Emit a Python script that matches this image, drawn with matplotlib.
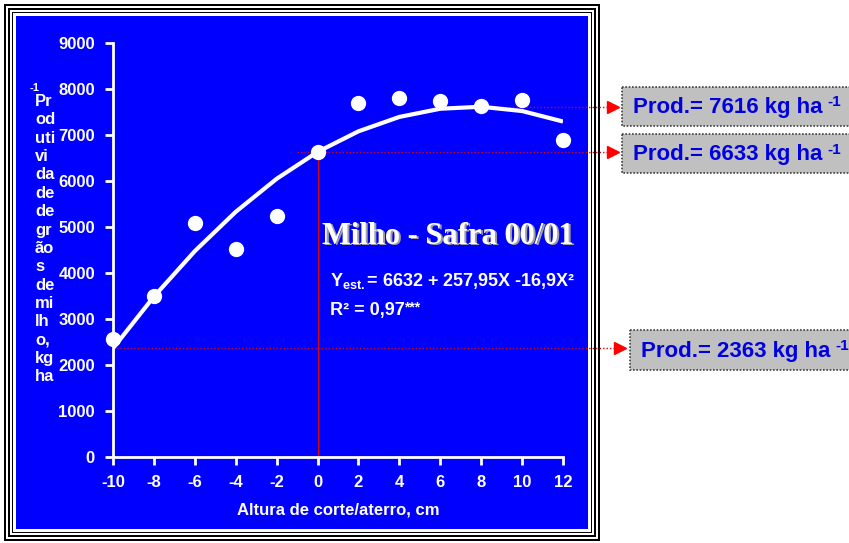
import matplotlib.pyplot as plt
import matplotlib.patches as mpatches

plt.rcParams['mathtext.fontset'] = 'custom'
plt.rcParams['mathtext.bf'] = 'Liberation Sans:bold'
plt.rcParams['mathtext.rm'] = 'Liberation Sans:bold'
plt.rcParams['mathtext.it'] = 'Liberation Sans:bold'
plt.rcParams['axes.unicode_minus'] = False

altura = [-10, -8, -6, -4, -2, 0, 2, 4, 6, 8, 10, 12]
prod_obs = [2570, 3500, 5090, 4520, 5240, 6630, 7690, 7800, 7740, 7630, 7760, 6890]

# Fitted curve values at the same heights
prod_est = [2363, 3487, 4476, 5330, 6048, 6632, 7080, 7393, 7571, 7614, 7521, 7293]

# Highlighted values
x_max, y_max = 7.63, 7616
x_zero, y_zero = 0, 6633
x_min, y_min = -10, 2363
box_labels = ['Prod.= 7616 kg ha', 'Prod.= 6633 kg ha', 'Prod.= 2363 kg ha']

W, H = 849, 543
fig = plt.figure(figsize=(W / 100, H / 100), dpi=100)
fig.patch.set_facecolor('white')

# Background axes in pixel coordinates for frame and boxes
bg = fig.add_axes([0, 0, 1, 1], zorder=-1)
bg.set_xlim(0, W)
bg.set_ylim(H, 0)
bg.axis('off')

frame = [(4, 4, 600, 541, 'black'), (6, 6, 598, 539, 'white'), (8, 8, 596, 537, 'black'),
         (10, 10, 594, 535, 'white'), (12, 12, 592, 533, 'black'), (13, 13, 591, 532, 'white'),
         (16, 16, 588, 529, '#0000FF')]
for x0, y0, x1, y1, c in frame:
    bg.add_patch(mpatches.Rectangle((x0, y0), x1 - x0, y1 - y0, facecolor=c, edgecolor='none'))

ax = fig.add_axes([113 / W, 86 / H, 450 / W, 414 / H])
ax.set_facecolor('none')
ax.set_xlim(-10, 12)
ax.set_ylim(0, 9000)
for s in ['top', 'right']:
    ax.spines[s].set_visible(False)
for s in ['left', 'bottom']:
    ax.spines[s].set_color('white')
    ax.spines[s].set_linewidth(2)
ax.set_xticks(range(-10, 13, 2))
ax.set_yticks(range(0, 9001, 1000))
ax.tick_params(colors='white', width=2, length=6, labelsize=12, pad=7)
for lab in ax.get_xticklabels() + ax.get_yticklabels():
    lab.set_fontweight('bold')
    lab.set_family('Liberation Sans')

# Red reference lines and arrows
ax.plot([x_zero, x_zero], [0, y_zero], color='#E00000', lw=1, zorder=2)
arrow_x = 14.45
for xs, ys in [(x_max, y_max), (x_zero - 1, y_zero), (x_min, y_min)]:
    end = arrow_x + (0.35 if ys == y_min else 0)
    ax.plot([xs, end - 0.3], [ys, ys], color='#E00000', lw=1, ls=(0, (1, 1.5)),
            clip_on=False, zorder=2)
    ax.plot([end], [ys], marker='>', color='red', ms=9, clip_on=False, zorder=2)

ax.plot(altura, prod_est, color='white', lw=3, solid_capstyle='butt', zorder=3)
ax.plot(altura, prod_obs, 'o', color='white', ms=10, clip_on=False, zorder=4)

# Title with shadow
for dx, dy, c in [(1.5, 1.5, '#A0A0A0'), (0, 0, 'white')]:
    fig.text((448 + dx) / W, 1 - (236 + dy) / H, 'Milho - Safra 00/01',
             ha='center', va='center', color=c,
             family='Liberation Serif', fontweight='bold', fontsize=22)

fig.text(330 / W, 1 - 281 / H, '$\\mathbf{Y_{est.}}$= 6632 + 257,95X -16,9X²',
         color='white', fontweight='bold', fontsize=13, family='Liberation Sans', va='center')
fig.text(330 / W, 1 - 311 / H, 'R² = 0,97',
         color='white', fontweight='bold', fontsize=13, family='Liberation Sans', va='center')
fig.text(404 / W, 1 - 307 / H, '***',
         color='white', fontweight='bold', fontsize=10, family='Liberation Sans', va='center')

# Broken y label as in the original
ylab = 'Pr\nod\nuti\nvi\nda\nde\nde\ngr\não\ns\nde\nmi\nlh\no,\nkg\nha'
fig.text(35 / W, 1 - 94 / H, ylab, color='white', fontweight='bold', fontsize=12,
         family='Liberation Sans', va='top', ha='left', linespacing=1.28)
fig.text(30 / W, 1 - 88 / H, '-1', color='white', fontweight='bold', fontsize=8,
         family='Liberation Sans', va='center', ha='left')

fig.text(338 / W, 1 - 510 / H, 'Altura de corte/aterro, cm', color='white',
         fontweight='bold', fontsize=12, family='Liberation Sans', ha='center', va='center')

# Grey value boxes
boxes = [(622, 87, 126), (622, 134, 173), (630, 330, 370)]
for (bx, by0, by1), lab in zip(boxes, box_labels):
    bg.add_patch(mpatches.Rectangle((bx, by0), W + 5 - bx, by1 - by0, facecolor='#C0C0C0',
                                    edgecolor='#404040', lw=1.2, ls=(0, (1, 1))))
    fig.text((bx + 11) / W, 1 - ((by0 + by1) / 2 + 1) / H, lab, color='#0000E0',
             fontweight='bold', fontsize=16, family='Liberation Sans', ha='left', va='center')
    fig.text((bx + 205) / W, 1 - ((by0 + by1) / 2 - 4) / H, '-1', color='#0000E0',
             fontweight='bold', fontsize=11, family='Liberation Sans', ha='left', va='center')

fig.savefig('out.png', dpi=100, facecolor='white')
